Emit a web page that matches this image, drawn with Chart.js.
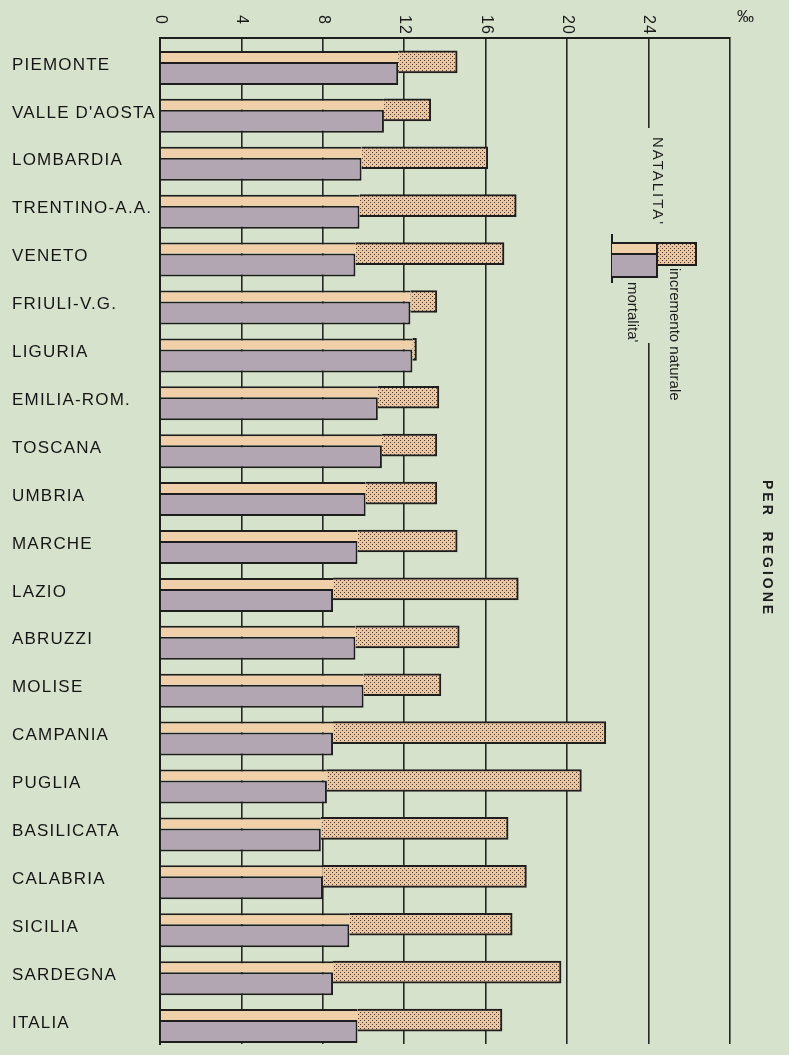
<!DOCTYPE html>
<html>
<head>
<meta charset="utf-8">
<script src="https://cdn.jsdelivr.net/npm/chart.js@4/dist/chart.umd.min.js"></script>
<style>
  body { margin: 0; background: #d7e2cd; }
  #wrap { position: relative; width: 789px; height: 1055px; overflow: hidden; font-family: 'Liberation Sans', Arial, sans-serif; color: #1c1c1c; }
  canvas { position: absolute; left: 0; top: 0; }
  .v { position: absolute; writing-mode: vertical-rl; line-height: 1; white-space: nowrap; }
  .box { position: absolute; box-sizing: border-box; border: 2px solid #1e1e1e; }
</style>
</head>
<body>
<div id="wrap">
  <canvas id="natChart" width="789" height="1055"></canvas>
  <div style="position:absolute;left:604px;top:128px;width:90px;height:215px;background:#d7e2cd"></div>
  <div class="v" style="left:651px;top:137px;font-size:15px;letter-spacing:2px">NATALITA'</div>
  <div style="position:absolute;left:611px;top:234px;width:2px;height:49px;background:#1e1e1e"></div>
  <div class="box" style="left:612px;top:242px;width:46px;height:13px;background:#f0d0a9;border-left:none;border-right:none"></div>
  <div class="box" style="left:612px;top:253px;width:46px;height:25px;background:#b3a6b3;border-left:none"></div>
  <div class="box" id="legDots" style="left:656px;top:242px;width:41px;height:24px"></div>
  <div class="v" style="left:668px;top:268px;font-size:15px">incremento naturale</div>
  <div class="v" style="left:626px;top:282px;font-size:15px">mortalita'</div>
  <div class="v" style="left:761px;top:480px;font-size:14px;font-weight:bold;letter-spacing:3px">PER&nbsp;&nbsp;REGIONE</div>
  <div class="v" style="left:737px;top:7px;font-size:17px">‰</div>
</div>
<script>
const regioni = ['PIEMONTE', "VALLE D'AOSTA", 'LOMBARDIA', 'TRENTINO-A.A.', 'VENETO', 'FRIULI-V.G.', 'LIGURIA',
  'EMILIA-ROM.', 'TOSCANA', 'UMBRIA', 'MARCHE', 'LAZIO', 'ABRUZZI', 'MOLISE', 'CAMPANIA', 'PUGLIA',
  'BASILICATA', 'CALABRIA', 'SICILIA', 'SARDEGNA', 'ITALIA'];
const natalita = [14.6, 13.3, 16.1, 17.5, 16.9, 13.6, 12.6, 13.7, 13.6, 13.6, 14.6,
  17.6, 14.7, 13.8, 21.9, 20.7, 17.1, 18.0, 17.3, 19.7, 16.8];
const mortalita = [11.7, 11.0, 9.9, 9.8, 9.6, 12.3, 12.4, 10.7, 10.9, 10.1, 9.7,
  8.5, 9.6, 10.0, 8.5, 8.2, 7.9, 8.0, 9.3, 8.5, 9.7];
const xTicks = [0, 4, 8, 12, 16, 20, 24];

const ink = '#1e1e1e';
const peach = '#f0d0a9';
const mauve = '#b3a6b3';
const step = 1006 / regioni.length; // row height in px

function dotTile() {
    const c = document.createElement('canvas');
    c.width = 4; c.height = 4;
    const g = c.getContext('2d');
    g.fillStyle = '#eac6a2';
    g.fillRect(0, 0, 4, 4);
    g.fillStyle = '#4e3b30';
    g.fillRect(0, 0, 1, 1);
    g.fillRect(2, 2, 1, 1);
    return c;
}
const tile = dotTile();
const ctx = document.getElementById('natChart').getContext('2d');
const dots = ctx.createPattern(tile, 'repeat');
document.getElementById('legDots').style.background = 'url(' + tile.toDataURL() + ')';

Chart.defaults.font.family = "'Liberation Sans', Arial, sans-serif";
Chart.defaults.color = '#1a1a1a';

const spacing = {
    id: 'spacing',
    beforeDraw(chart) { chart.ctx.letterSpacing = '1.2px'; }
};

new Chart(ctx, {
    type: 'bar',
    data: {
        labels: regioni,
        datasets: [
            {
                label: 'natalita',
                data: mortalita,
                stack: 'a',
                backgroundColor: peach,
                borderColor: ink,
                borderWidth: { top: 2, right: 0, bottom: 0, left: 0 },
                borderSkipped: false,
                categoryPercentage: 16.5 / step,
                barPercentage: 2
            },
            {
                label: 'incremento naturale',
                data: natalita.map((v, i) => [mortalita[i], v]),
                stack: 'b',
                backgroundColor: dots,
                borderColor: ink,
                borderWidth: 2,
                borderSkipped: 'start',
                barThickness: 22
            },
            {
                label: 'mortalita',
                data: mortalita,
                stack: 'c',
                backgroundColor: mauve,
                borderColor: ink,
                borderWidth: 2,
                categoryPercentage: 34.5 / step,
                barPercentage: 2
            }
        ]
    },
    options: {
        indexAxis: 'y',
        responsive: false,
        animation: false,
        layout: { padding: { left: 12, right: 59, top: 0, bottom: 11 } },
        plugins: { legend: { display: false }, tooltip: { enabled: false } },
        scales: {
            x: {
                position: 'top',
                min: 0,
                max: 28,
                grid: { color: '#262626', lineWidth: 1.6, drawTicks: false, z: -1 },
                border: { color: ink, width: 2 },
                ticks: {
                    stepSize: 4,
                    autoSkip: false,
                    minRotation: -90,
                    maxRotation: -90,
                    padding: 23,
                    labelOffset: -19,
                    font: { size: 16 },
                    callback: v => xTicks.includes(v) ? String(v) : ''
                },
                afterFit(scale) {
                    scale.height = 38;
                    scale.paddingLeft = 0;
                    scale.paddingRight = 0;
                }
            },
            y: {
                grid: { display: false },
                border: { color: ink, width: 2 },
                ticks: { crossAlign: 'far', padding: 0, labelOffset: 3, font: { size: 17 }, color: '#151515' },
                afterFit(scale) {
                    scale.width = 148;
                    scale.paddingTop = 0;
                    scale.paddingBottom = 0;
                }
            }
        }
    },
    plugins: [spacing]
});
</script>
</body>
</html>
